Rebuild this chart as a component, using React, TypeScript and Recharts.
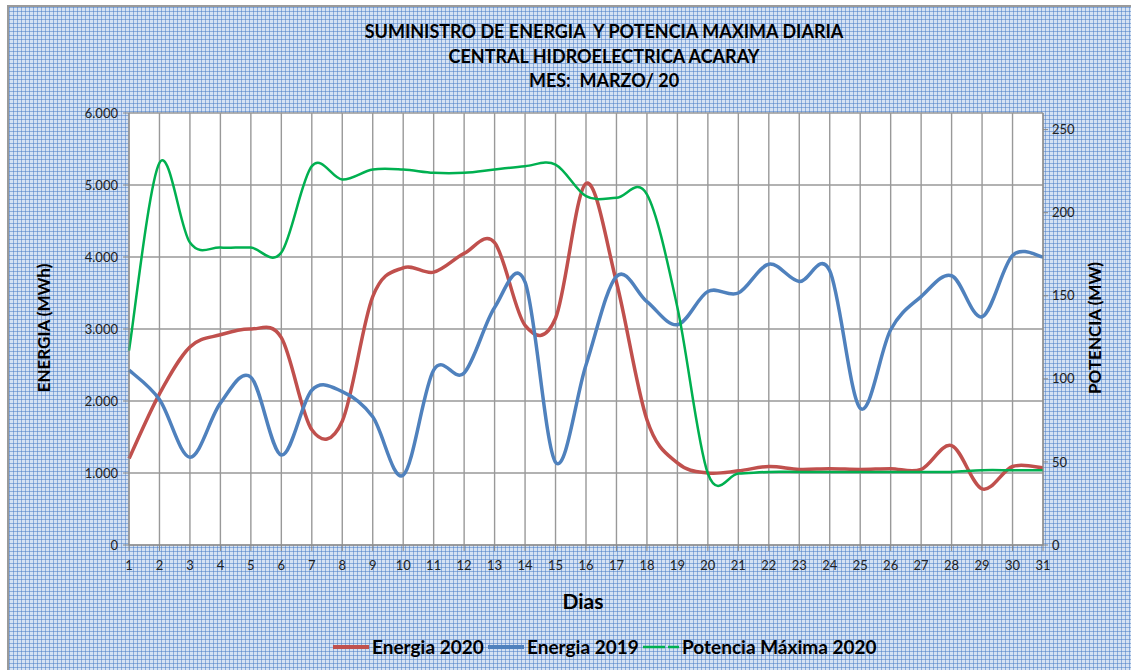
import React from 'react'
import { LineChart, Line, XAxis, YAxis, CartesianGrid } from 'recharts'

const dias = [1, 2, 3, 4, 5, 6, 7, 8, 9, 10, 11, 12, 13, 14, 15, 16, 17, 18, 19, 20, 21, 22, 23, 24, 25, 26, 27, 28, 29, 30, 31]

// MWh
const energia2020 = [1200, 2100, 2750, 2920, 3000, 2880, 1600, 1720, 3450, 3850, 3790, 4050, 4200, 3050, 3150, 5020, 3650, 1740, 1140, 1000, 1030, 1090, 1050, 1060, 1050, 1060, 1050, 1380, 780, 1090, 1070]
const energia2019 = [2430, 2020, 1220, 1970, 2330, 1250, 2150, 2130, 1780, 970, 2430, 2390, 3300, 3650, 1150, 2500, 3730, 3380, 3060, 3520, 3500, 3900, 3660, 3810, 1900, 2990, 3450, 3740, 3170, 4020, 4000]
// MW
const potencia2020 = [117, 230, 182, 179, 179, 176, 228, 220, 226, 226, 224, 224, 226, 228, 229, 210, 209, 211, 143, 43, 43, 44, 44, 44, 44, 44, 44, 44, 45, 45, 45]

const ticksEnergia = [0, 1000, 2000, 3000, 4000, 5000, 6000]
const ticksPotencia = [0, 50, 100, 150, 200, 250]

const titulo = [
  'SUMINISTRO DE ENERGIA  Y POTENCIA MAXIMA DIARIA',
  'CENTRAL HIDROELECTRICA ACARAY',
  'MES:  MARZO/ 20',
]

const datos = dias.map((dia, i) => ({
  dia,
  e2020: energia2020[i],
  e2019: energia2019[i],
  pot: potencia2020[i],
}))

const fuente = 'Lato, "Open Sans", sans-serif'

// suavizado tipo Excel (Catmull-Rom)
function curvaSuave(ctx: any) {
  let xs: number[] = []
  let ys: number[] = []
  return {
    areaStart() {},
    areaEnd() {},
    lineStart() { xs = []; ys = [] },
    point(x: number, y: number) { xs.push(+x); ys.push(+y) },
    lineEnd() {
      const n = xs.length
      if (!n) return
      ctx.moveTo(xs[0], ys[0])
      for (let i = 0; i < n - 1; i++) {
        const a = Math.max(i - 1, 0)
        const d = Math.min(i + 2, n - 1)
        const c1x = xs[i] + (xs[i + 1] - xs[a]) / 6
        const c1y = ys[i] + (ys[i + 1] - ys[a]) / 6
        const c2x = xs[i + 1] - (xs[d] - xs[i]) / 6
        const c2y = ys[i + 1] - (ys[d] - ys[i]) / 6
        ctx.bezierCurveTo(c1x, c1y, c2x, c2y, xs[i + 1], ys[i + 1])
      }
    },
  }
}

const miles = (v: number) => String(v).replace(/\B(?=(\d{3})+(?!\d))/g, '.')

const fondo = {
  backgroundColor: '#d5e2f3',
  backgroundImage:
    'linear-gradient(to right, rgba(79,129,200,0.55) 1px, transparent 1px), linear-gradient(to bottom, rgba(79,129,200,0.55) 1px, transparent 1px)',
  backgroundSize: '4px 4px',
}

const textoTick = { fontFamily: fuente, fontSize: 13, fill: '#222' }

function ItemLeyenda({ color, texto, x, rayado }: { color: string, texto: string, x: number, rayado?: boolean }) {
  return (
    <div style={{ position: 'absolute', left: x, top: 628, display: 'flex', alignItems: 'center' }}>
      <svg width={38} height={10}>
        <line x1={0} y1={5} x2={36} y2={5} stroke={color} strokeWidth={rayado ? 2.5 : 4}
          strokeDasharray={rayado ? '22 3 12' : undefined} />
      </svg>
      <span style={{ fontFamily: fuente, fontWeight: 700, fontSize: 19, color: '#000', marginLeft: 1 }}>{texto}</span>
    </div>
  )
}

export default function App() {
  return (
    <div style={{
      position: 'absolute', left: 7, top: 5, width: 1124, height: 665, overflow: 'hidden',
      borderLeft: '2px solid #9a9a9a', borderTop: '2px solid #9a9a9a', boxSizing: 'border-box', ...fondo,
    }}>
      {titulo.map((t, i) => (
        <div key={i} style={{
          position: 'absolute', left: 0, width: 1190, top: 13 + i * 24.5, textAlign: 'center',
          fontFamily: fuente, fontWeight: 700, fontSize: 18, color: '#000', whiteSpace: 'pre',
        }}>{t}</div>
      ))}

      <div style={{ position: 'absolute', left: -2, top: -2 }}>
        <LineChart width={1124} height={665} data={datos} margin={{ top: 108, right: 28, bottom: 95, left: 62 }}>
          <CartesianGrid yAxisId="izq" stroke="#999" strokeWidth={1.4} fill="#fff" fillOpacity={1} />
          <XAxis dataKey="dia" type="number" domain={[1, 31]} ticks={dias} interval={0} height={30}
            stroke="#888" tickSize={6} tickMargin={10} tick={textoTick} />
          <YAxis yAxisId="izq" domain={[0, 6000]} ticks={ticksEnergia} width={60} stroke="#888"
            tickSize={6} tickMargin={5} tick={textoTick} tickFormatter={miles} />
          <YAxis yAxisId="der" orientation="right" domain={[0, 260]} ticks={ticksPotencia} width={60}
            stroke="#888" tickSize={5} tickMargin={4} tick={textoTick} />
          <Line yAxisId="izq" dataKey="e2020" type={curvaSuave as any} stroke="#c0504d" strokeWidth={3.5}
            dot={false} activeDot={false} isAnimationActive={false} />
          <Line yAxisId="izq" dataKey="e2019" type={curvaSuave as any} stroke="#4f81bd" strokeWidth={3.5}
            dot={false} activeDot={false} isAnimationActive={false} />
          <Line yAxisId="der" dataKey="pot" type={curvaSuave as any} stroke="#00b050" strokeWidth={2.5}
            dot={false} activeDot={false} isAnimationActive={false} />
        </LineChart>
      </div>

      <div style={{
        position: 'absolute', left: 34, top: 321, transform: 'translate(-50%, -50%) rotate(-90deg)',
        fontFamily: fuente, fontWeight: 700, fontSize: 17, whiteSpace: 'nowrap', color: '#000',
      }}>ENERGIA (MWh)</div>
      <div style={{
        position: 'absolute', left: 1085, top: 321, transform: 'translate(-50%, -50%) rotate(-90deg)',
        fontFamily: fuente, fontWeight: 700, fontSize: 17, whiteSpace: 'nowrap', color: '#000',
      }}>POTENCIA (MW)</div>
      <div style={{
        position: 'absolute', left: 574, top: 593, transform: 'translate(-50%, -50%)',
        fontFamily: fuente, fontWeight: 700, fontSize: 21, color: '#000',
      }}>Dias</div>

      <ItemLeyenda color="#c0504d" texto="Energia 2020" x={324} />
      <ItemLeyenda color="#4f81bd" texto="Energia 2019" x={479} />
      <ItemLeyenda color="#00b050" texto="Potencia Máxima 2020" x={634} rayado />
    </div>
  )
}
